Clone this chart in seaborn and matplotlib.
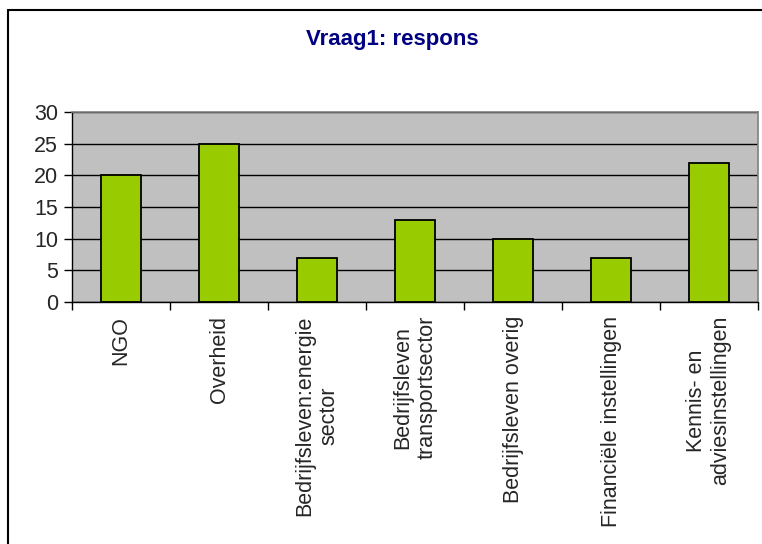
import pandas as pd
import matplotlib
matplotlib.use("Agg")
import matplotlib.pyplot as plt
import seaborn as sns
from matplotlib.lines import Line2D

# categories and response counts
categories = [
    "NGO",
    "Overheid",
    "Bedrijfsleven:energie\nsector",
    "Bedrijfsleven\ntransportsector",
    "Bedrijfsleven overig",
    "Financiële instellingen",
    "Kennis- en\nadviesinstellingen",
]
responses = [20, 25, 7, 13, 10, 7, 22]
y_ticks = [0, 5, 10, 15, 20, 25, 30]

df = pd.DataFrame({"categorie": categories, "respons": responses})

sns.set_style("white")
plt.rcParams["font.family"] = ["Liberation Sans", "DejaVu Sans"]

fig = plt.figure(figsize=(7.62, 5.44), dpi=100)
ax = fig.add_axes([72 / 762, 1 - 302 / 544, 686 / 762, 190 / 544])
ax.set_facecolor("#C0C0C0")

sns.barplot(data=df, x="categorie", y="respons", color="#99CC00",
            edgecolor="black", linewidth=1.3, width=0.41, saturation=1, ax=ax)

ax.set_xlim(-0.5, len(categories) - 0.5)
ax.set_ylim(0, 30)
ax.set_yticks(y_ticks)
ax.yaxis.grid(True, color="black", linewidth=1)
ax.set_axisbelow(True)

# labels under each category, ticks between categories
ax.set_xticks(range(len(categories)))
ax.set_xticklabels(categories, rotation=90, fontsize=15.5, ha="center", va="top",
                   multialignment="center")
ax.tick_params(axis="x", which="major", length=0, pad=10)
ax.set_xticks([i - 0.5 for i in range(len(categories) + 1)], minor=True)
ax.tick_params(axis="x", which="minor", length=6, width=1, color="black",
               direction="out", bottom=True)
ax.tick_params(axis="y", length=6, width=1, color="black", direction="out",
               left=True, labelsize=15.5, pad=4)

for side in ["top", "right"]:
    ax.spines[side].set_color("#808080")
    ax.spines[side].set_linewidth(1.2)
for side in ["left", "bottom"]:
    ax.spines[side].set_color("black")
    ax.spines[side].set_linewidth(1)

ax.set_xlabel("")
ax.set_ylabel("")

fig.text(392 / 762, 1 - 40 / 544, "Vraag1: respons", ha="center", va="center",
         fontsize=16, fontweight="bold", color="#000080")

# chart frame
fig.add_artist(Line2D([8 / 762, 8 / 762], [0, 1 - 10 / 544], color="black",
                      linewidth=1.5, transform=fig.transFigure))
fig.add_artist(Line2D([8 / 762, 1], [1 - 10 / 544, 1 - 10 / 544], color="black",
                      linewidth=1.5, transform=fig.transFigure))

fig.savefig("out.png", dpi=100, facecolor="white")
